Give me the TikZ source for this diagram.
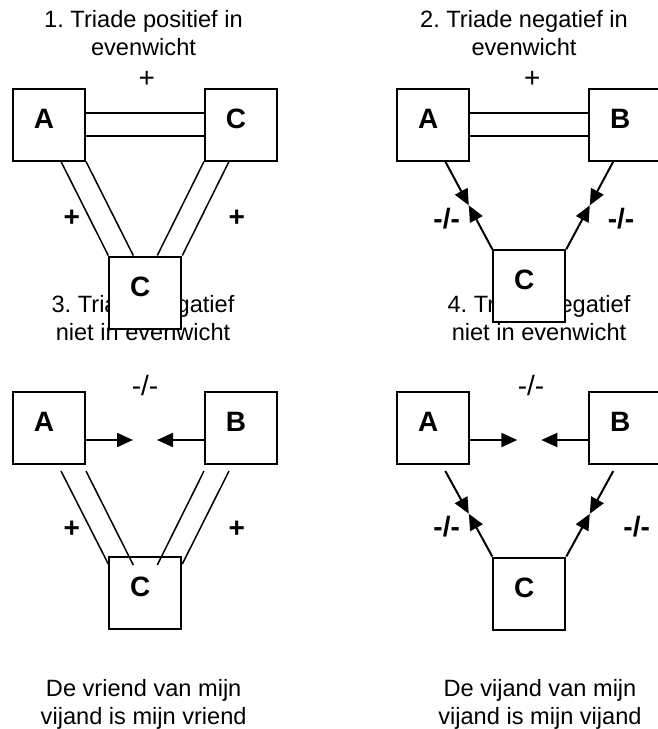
\documentclass[tikz,border=0pt]{standalone}
\usepackage{fontspec}
\setmainfont{Liberation Sans}
\usetikzlibrary{arrows.meta,calc}
\frenchspacing
\begin{document}
\begin{tikzpicture}[x=1pt,y=-1pt,
 box/.style={draw,line width=2pt,fill=white,minimum width=72pt,minimum height=72pt,inner sep=0pt},
 lbl/.style={font=\fontsize{28}{30}\selectfont\bfseries,inner sep=0pt},
 ttl/.style={font=\fontsize{23.6}{28}\selectfont,align=center,anchor=north,inner sep=0pt},
 sgn/.style={font=\fontsize{28}{30}\selectfont\bfseries,inner sep=0pt},
 topsgn/.style={font=\fontsize{28}{30}\selectfont,inner sep=0pt},
 dbl/.style={line width=1.5pt},
 arr/.style={line width=2pt,-{Triangle[length=16pt,width=14pt]}}]
\useasboundingbox (0,0) rectangle (657,729);
% titles and captions
\node[ttl] (t1) at (143.5,10.5) {1. Triade positief in\\evenwicht};
\node[ttl] (t2) at (524,10.5) {2. Triade negatief in\\evenwicht};
\node[ttl] (t3) at (143,295) {3. Triade negatief\\niet in evenwicht};
\node[ttl] (t4) at (539,295) {4. Triade negatief\\niet in evenwicht};
\node[ttl] (b3) at (143.7,679) {De vriend van mijn\\vijand is mijn vriend};
\node[ttl] (b4) at (540,679) {De vijand van mijn\\vijand is mijn vijand};
% panel 1
\node[box] (A1) at (49,124.5) {};
\node[box] (C1) at (241,124.5) {};
\node[box] (D1) at (145.3,292.5) {};
\node[lbl] (A1l) at ($(A1.center)+(-5,-6)$) {A};
\node[lbl] (C1l) at ($(C1.center)+(-5,-6)$) {C};
\node[lbl] (D1l) at ($(D1.center)+(-5,-6)$) {C};
\draw[dbl] ([yshift=11.5pt]A1.east) -- ([yshift=11.5pt]C1.west);
\draw[dbl] ([yshift=-11.5pt]A1.east) -- ([yshift=-11.5pt]C1.west);
\draw[dbl] ([xshift=12pt]A1.south) -- (D1.north west);
\draw[dbl] (A1.south east) -- ([xshift=-12pt]D1.north);
\draw[dbl] (C1.south west) -- ([xshift=12pt]D1.north);
\draw[dbl] ([xshift=-12pt]C1.south) -- (D1.north east);
\node[topsgn] (s1t) at (146.7,79) {+};
\node[sgn] (s1l) at (71.7,218.3) {+};
\node[sgn] (s1r) at (236.7,218.3) {+};
% panel 2
\node[box] (A2) at (433.3,124.5) {};
\node[box] (B2) at (625.3,124.5) {};
\node[box] (C2) at (529.3,286.2) {};
\node[lbl] (A2l) at ($(A2.center)+(-5,-6)$) {A};
\node[lbl] (B2l) at ($(B2.center)+(-5,-6)$) {B};
\node[lbl] (C2l) at ($(C2.center)+(-5,-6)$) {C};
\draw[dbl] ([yshift=11.5pt]A2.east) -- ([yshift=11.5pt]B2.west);
\draw[dbl] ([yshift=-11.5pt]A2.east) -- ([yshift=-11.5pt]B2.west);
\coordinate (m2l) at ($([xshift=12pt]A2.south)!0.5!(C2.north west)$);
\coordinate (m2r) at ($([xshift=-12pt]B2.south)!0.5!(C2.north east)$);
\draw[arr] ([xshift=12pt]A2.south) -- (m2l);
\draw[arr] (C2.north west) -- (m2l);
\draw[arr] ([xshift=-12pt]B2.south) -- (m2r);
\draw[arr] (C2.north east) -- (m2r);
\node[topsgn] (s2t) at (532.3,79) {+};
\node[sgn] (s2l) at (446.7,218.3) {-/-};
\node[sgn] (s2r) at (621,218.3) {-/-};
% panel 3
\node[box] (A3) at (49,428) {};
\node[box] (B3) at (241,428) {};
\node[box] (C3) at (145.3,593) {};
\node[lbl] (A3l) at ($(A3.center)+(-5,-6)$) {A};
\node[lbl] (B3l) at ($(B3.center)+(-5,-6)$) {B};
\node[lbl] (C3l) at ($(C3.center)+(-5,-6)$) {C};
\coordinate (h3l) at ($([yshift=-12pt]A3.east)+(47,0)$);
\coordinate (h3r) at ($([yshift=-12pt]B3.west)+(-47,0)$);
\draw[arr] ([yshift=-12pt]A3.east) -- (h3l);
\draw[arr] ([yshift=-12pt]B3.west) -- (h3r);
\draw[dbl] ([shift={(12pt,-6pt)}]A3.south) -- ([yshift=29pt]C3.west);
\draw[dbl] ([yshift=-6pt]A3.south east) -- ([shift={(-12pt,-9pt)}]C3.north);
\draw[dbl] ([yshift=-6pt]B3.south west) -- ([shift={(12pt,-9pt)}]C3.north);
\draw[dbl] ([shift={(-12pt,-6pt)}]B3.south) -- ([yshift=29pt]C3.east);
\node[topsgn] (s3t) at (145,385) {-/-};
\node[sgn] (s3l) at (71.7,529.3) {+};
\node[sgn] (s3r) at (236.7,529.3) {+};
% panel 4
\node[box] (A4) at (433.3,428) {};
\node[box] (B4) at (625.3,428) {};
\node[box] (C4) at (529.3,593.5) {};
\node[lbl] (A4l) at ($(A4.center)+(-5,-6)$) {A};
\node[lbl] (B4l) at ($(B4.center)+(-5,-6)$) {B};
\node[lbl] (C4l) at ($(C4.center)+(-5,-6)$) {C};
\coordinate (h4l) at ($([yshift=-12pt]A4.east)+(47,0)$);
\coordinate (h4r) at ($([yshift=-12pt]B4.west)+(-47,0)$);
\draw[arr] ([yshift=-12pt]A4.east) -- (h4l);
\draw[arr] ([yshift=-12pt]B4.west) -- (h4r);
\coordinate (m4l) at ($([shift={(12pt,-6pt)}]A4.south)!0.5!(C4.north west)$);
\coordinate (m4r) at ($([shift={(-12pt,-6pt)}]B4.south)!0.5!(C4.north east)$);
\draw[arr] ([shift={(12pt,-6pt)}]A4.south) -- (m4l);
\draw[arr] (C4.north west) -- (m4l);
\draw[arr] ([shift={(-12pt,-6pt)}]B4.south) -- (m4r);
\draw[arr] (C4.north east) -- (m4r);
\node[topsgn] (s4t) at (531,385) {-/-};
\node[sgn] (s4l) at (446.7,526.7) {-/-};
\node[sgn] (s4r) at (636.7,526.7) {-/-};
\end{tikzpicture}
\end{document}
